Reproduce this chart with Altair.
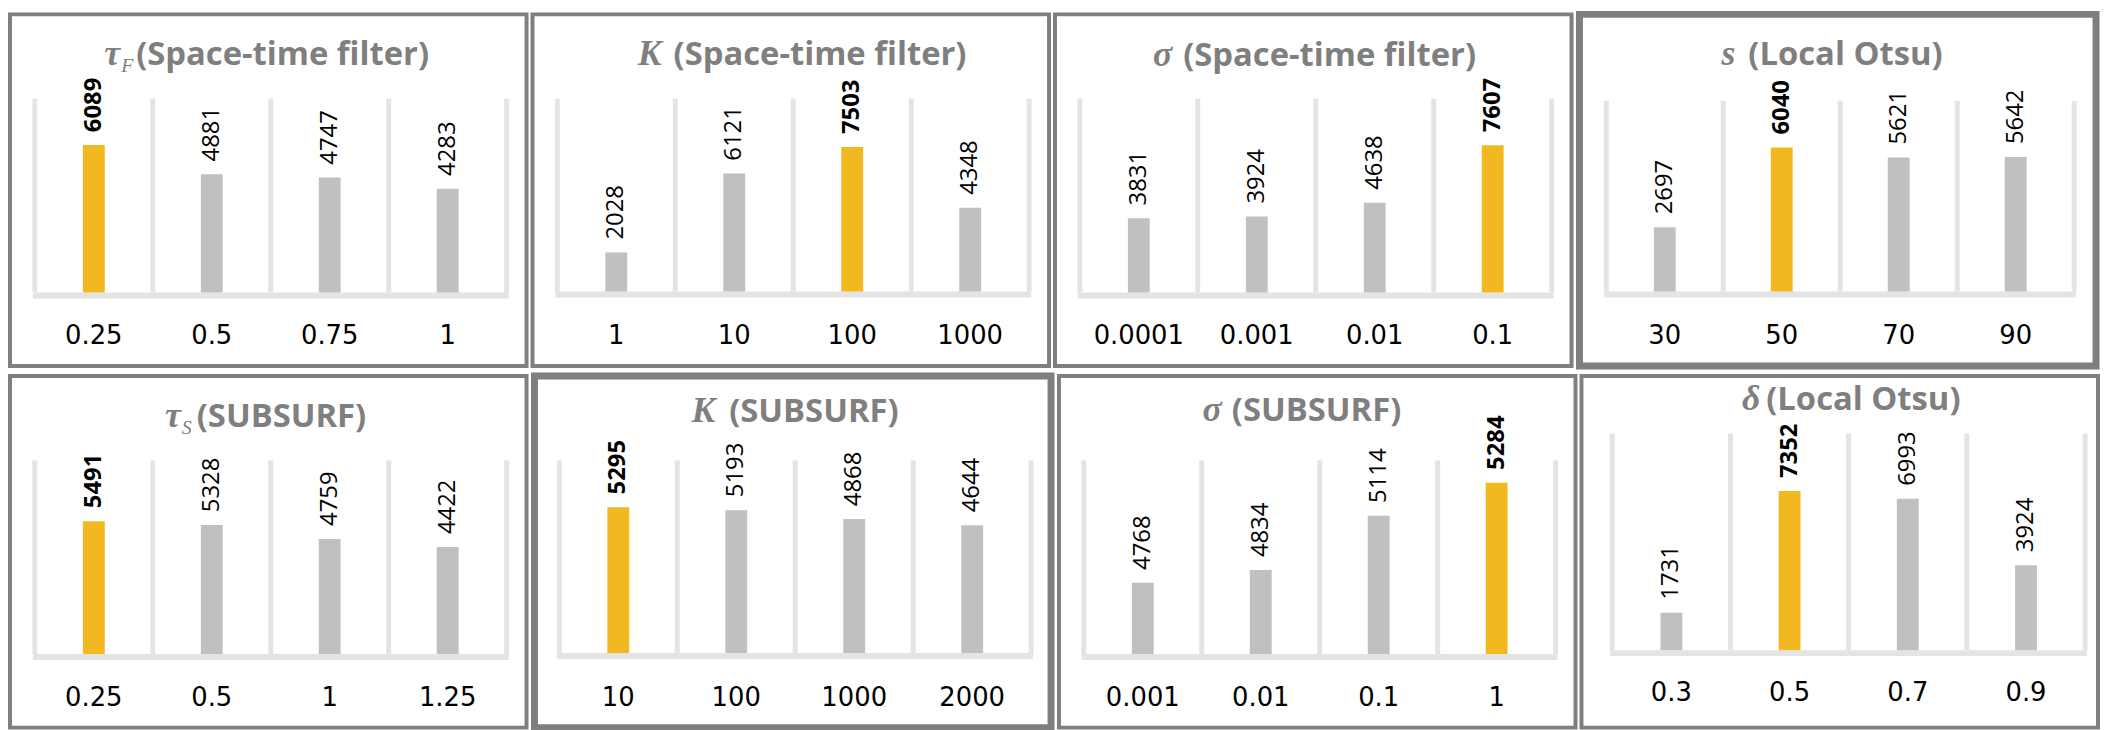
import altair as alt
import pandas as pd

# ---------------- data ----------------
symbols = ["τ", "K", "σ", "s", "τ", "K", "σ", "δ"]
subscripts = ["F", "", "", "", "S", "", "", ""]
methods = ["(Space-time filter)", "(Space-time filter)", "(Space-time filter)", "(Local Otsu)",
           "(SUBSURF)", "(SUBSURF)", "(SUBSURF)", "(Local Otsu)"]
categories = [
    ["0.25", "0.5", "0.75", "1"],
    ["1", "10", "100", "1000"],
    ["0.0001", "0.001", "0.01", "0.1"],
    ["30", "50", "70", "90"],
    ["0.25", "0.5", "1", "1.25"],
    ["10", "100", "1000", "2000"],
    ["0.001", "0.01", "0.1", "1"],
    ["0.3", "0.5", "0.7", "0.9"],
]
values = [
    [6089, 4881, 4747, 4283],
    [2028, 6121, 7503, 4348],
    [3831, 3924, 4638, 7607],
    [2697, 6040, 5621, 5642],
    [5491, 5328, 4759, 4422],
    [5295, 5193, 4868, 4644],
    [4768, 4834, 5114, 5284],
    [1731, 7352, 6993, 3924],
]
best_index = [0, 2, 3, 1, 0, 0, 3, 1]
y_min = [0, 0, 0, 0, 0, 0, 4400, 0]
y_max = [8000, 10000, 10000, 8000, 8000, 7000, 5400, 10000]

# ---------------- layout / style ----------------
W, H = 520, 354
GRAY_BAR = "#BFC0BF"
GOLD = "#F2B81F"
GRID = "#E4E4E4"
BORDER = "#7F7F7F"
TITLE_GRAY = "#7F7F7F"

layout = [
    dict(top=85, bottom=280, x0=25, x1=500, title_y=51, split=127, sym_x=111, sw=4, label_y=332),
    dict(top=85, bottom=279, x0=25, x1=500, title_y=51, split=142, sym_x=130, sw=4, label_y=332),
    dict(top=85, bottom=280, x0=25, x1=500, title_y=52, split=129, sym_x=118, sw=4, label_y=332),
    dict(top=87, bottom=279, x0=27, x1=498, title_y=51, split=170, sym_x=157, sw=7, label_y=332),
    dict(top=85, bottom=280, x0=25, x1=500, title_y=51, split=188, sym_x=172, sw=4, label_y=332),
    dict(top=85, bottom=279, x0=25, x1=500, title_y=46, split=196, sym_x=182, sw=7, label_y=332),
    dict(top=85, bottom=280, x0=25, x1=500, title_y=45, split=174, sym_x=164, sw=4, label_y=332),
    dict(top=58, bottom=276, x0=31, x1=507, title_y=34, split=186, sym_x=180, sw=4, label_y=327),
]


def text_layer(txt, x, y, align, font, size, weight, style, color):
    return alt.Chart(pd.DataFrame({"t": [txt]})).mark_text(
        align=align, baseline="alphabetic", font=font, fontSize=size,
        fontWeight=weight, fontStyle=style, color=color,
    ).encode(x=alt.value(x), y=alt.value(y), text="t:N")


def panel(i):
    L = layout[i]
    cats = categories[i]
    df = pd.DataFrame({
        "cat": cats,
        "val": values[i],
        "best": [j == best_index[i] for j in range(len(cats))],
    })
    xs = alt.Scale(domain=cats, range=[L["x0"], L["x1"]], paddingInner=0, paddingOuter=0)
    ys = alt.Scale(domain=[y_min[i], y_max[i]], range=[L["bottom"], L["top"]], nice=False, zero=False)
    base = alt.Chart(df)

    grid = base.mark_rule(color=GRID, strokeWidth=5).encode(
        x=alt.X("cat:N", bandPosition=0, scale=xs, sort=cats, axis=None),
        y=alt.YDatum(y_min[i], axis=None),
        y2=alt.Y2Datum(y_max[i]),
    )
    grid_end = base.mark_rule(color=GRID, strokeWidth=5).encode(
        x=alt.X("cat:N", bandPosition=1, scale=xs, sort=cats, axis=None),
        y=alt.YDatum(y_min[i], axis=None),
        y2=alt.Y2Datum(y_max[i]),
    ).transform_filter(f"datum.cat == '{cats[-1]}'")

    baseline = alt.Chart(pd.DataFrame({"b": [y_min[i]]})).mark_rule(
        color=GRID, strokeWidth=6, yOffset=3
    ).encode(
        x=alt.value(L["x0"] - 2), x2=alt.value(L["x1"] + 2),
        y=alt.Y("b:Q", axis=None),
    )

    bars = base.mark_bar(size=22).encode(
        x=alt.X("cat:N", scale=xs, sort=cats, axis=None),
        y=alt.Y("val:Q", scale=ys, axis=None),
        y2=alt.Y2Datum(y_min[i]),
        color=alt.condition("datum.best", alt.value(GOLD), alt.value(GRAY_BAR)),
    )

    def labels(bold):
        return base.mark_text(
            angle=270, align="left", baseline="middle", dx=13,
            font="Open Sans", fontSize=24, fontWeight="bold" if bold else "normal", color="black",
        ).encode(
            x=alt.X("cat:N", scale=xs, sort=cats, axis=None),
            y=alt.Y("val:Q", scale=ys, axis=None),
            text=alt.Text("val:Q", format="d"),
        ).transform_filter("datum.best" if bold else "!datum.best")

    cat_labels = base.mark_text(
        align="center", baseline="alphabetic", font="DejaVu Sans", fontSize=26, color="black",
    ).encode(
        x=alt.X("cat:N", scale=xs, sort=cats, axis=None),
        y=alt.value(L["label_y"]),
        text="cat:N",
    )

    layers = [grid, grid_end, baseline, bars, labels(False), labels(True), cat_labels]

    # title pieces
    layers.append(text_layer(methods[i], L["split"], L["title_y"], "left",
                             "Open Sans", 33, "bold", "normal", TITLE_GRAY))
    layers.append(text_layer(symbols[i], L["sym_x"], L["title_y"], "right",
                             "Liberation Serif", 36, "bold", "italic", TITLE_GRAY))
    if subscripts[i]:
        layers.append(text_layer(subscripts[i], L["sym_x"] + 1, L["title_y"] + 7, "left",
                                 "Liberation Serif", 20, "normal", "italic", TITLE_GRAY))

    return alt.layer(*layers).properties(
        width=W, height=H,
        view=alt.ViewBackground(stroke=BORDER, strokeWidth=L["sw"], fill="white"),
    )


row1 = alt.hconcat(*[panel(i) for i in range(4)], spacing=2)
row2 = alt.hconcat(*[panel(i) for i in range(4, 8)], spacing=2)
chart = alt.vconcat(row1, row2, spacing=2).properties(
    padding=0, background="white"
).configure_view(stroke=BORDER)

chart.save("out.html", embed_options={"renderer": "svg", "actions": False})
